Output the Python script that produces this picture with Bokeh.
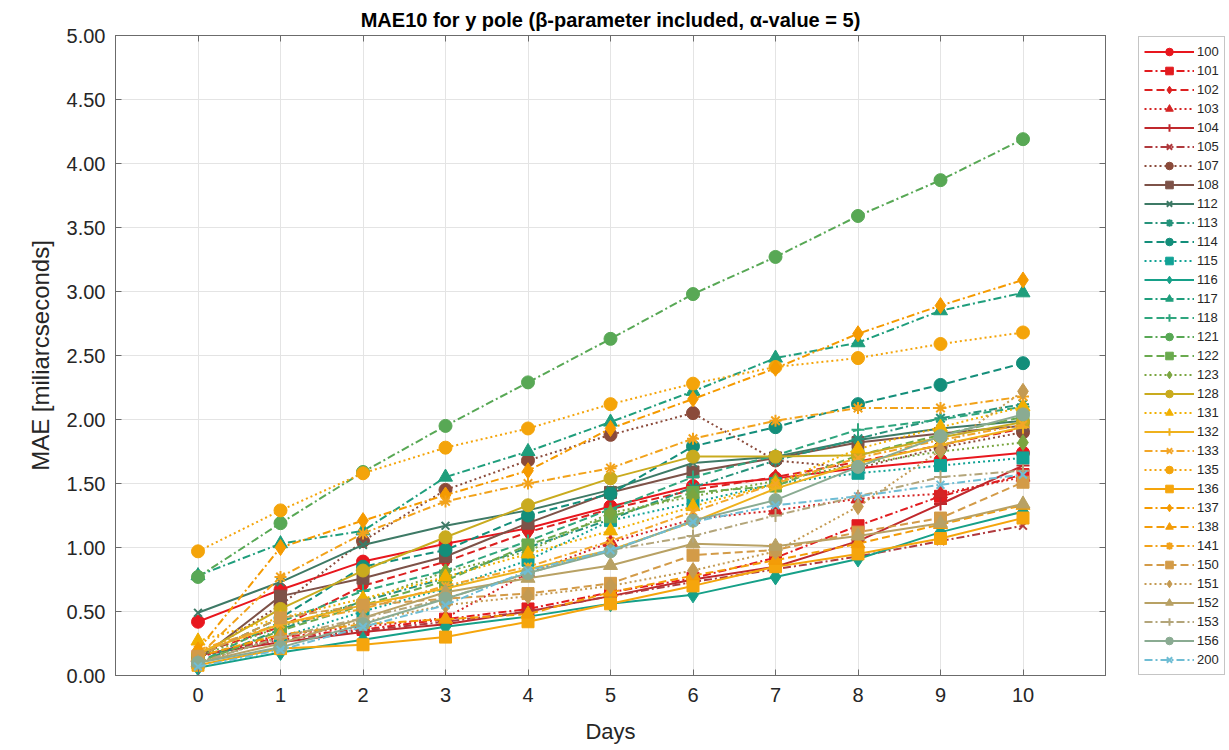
from bokeh.plotting import figure
from bokeh.layouts import row
from bokeh.models import (Legend, LegendItem, LinearAxis, FixedTicker,
                          NumeralTickFormatter, Range1d)
from bokeh.embed import file_html
from bokeh.resources import INLINE

# Forecast horizon (days)
days = [0, 1, 2, 3, 4, 5, 6, 7, 8, 9, 10]

# MAE per solution, in milliarcseconds
s100 = [0.42, 0.67, 0.89, 1.03, 1.15, 1.32, 1.48, 1.54, 1.62, 1.68, 1.74]
s101 = [0.15, 0.30, 0.36, 0.44, 0.52, 0.65, 0.76, 0.92, 1.17, 1.40, 1.57]
s102 = [0.17, 0.38, 0.70, 0.89, 1.12, 1.30, 1.45, 1.55, 1.67, 1.80, 1.93]
s103 = [0.14, 0.32, 0.38, 0.45, 0.80, 1.04, 1.22, 1.29, 1.38, 1.42, 1.55]
s104 = [0.16, 0.26, 0.34, 0.40, 0.50, 0.62, 0.75, 0.85, 1.05, 1.34, 1.64]
s105 = [0.15, 0.28, 0.35, 0.42, 0.50, 0.62, 0.73, 0.83, 0.93, 1.05, 1.17]
s107 = [0.14, 0.55, 1.05, 1.45, 1.68, 1.88, 2.05, 1.68, 1.62, 1.78, 1.90]
s108 = [0.12, 0.62, 0.76, 0.93, 1.19, 1.43, 1.59, 1.70, 1.82, 1.89, 1.95]
s112 = [0.49, 0.73, 1.02, 1.17, 1.29, 1.45, 1.66, 1.71, 1.84, 1.93, 1.99]
s113 = [0.10, 0.36, 0.58, 0.76, 1.00, 1.22, 1.47, 1.68, 1.85, 2.01, 2.12]
s114 = [0.15, 0.45, 0.85, 0.98, 1.25, 1.42, 1.79, 1.94, 2.12, 2.27, 2.44]
s115 = [0.10, 0.30, 0.50, 0.68, 0.90, 1.21, 1.35, 1.50, 1.58, 1.64, 1.70]
s116 = [0.06, 0.18, 0.28, 0.38, 0.46, 0.56, 0.63, 0.77, 0.91, 1.12, 1.28]
s117 = [0.78, 1.03, 1.13, 1.55, 1.75, 1.98, 2.22, 2.48, 2.60, 2.85, 2.99]
s118 = [0.10, 0.42, 0.66, 0.82, 1.05, 1.30, 1.55, 1.72, 1.92, 2.00, 2.10]
s121 = [0.77, 1.19, 1.59, 1.95, 2.29, 2.63, 2.98, 3.27, 3.59, 3.87, 4.19]
s122 = [0.10, 0.35, 0.55, 0.74, 1.02, 1.24, 1.43, 1.48, 1.72, 1.88, 2.02]
s123 = [0.15, 0.38, 0.58, 0.81, 0.97, 1.27, 1.40, 1.52, 1.65, 1.75, 1.82]
s128 = [0.16, 0.52, 0.82, 1.08, 1.33, 1.54, 1.71, 1.71, 1.72, 1.86, 1.98]
s131 = [0.27, 0.45, 0.60, 0.77, 0.95, 1.13, 1.32, 1.50, 1.77, 1.94, 2.10]
s132 = [0.18, 0.40, 0.55, 0.68, 0.83, 0.98, 1.20, 1.46, 1.66, 1.80, 1.94]
s133 = [0.20, 0.40, 0.52, 0.70, 0.85, 1.05, 1.28, 1.50, 1.70, 1.84, 1.96]
s135 = [0.97, 1.29, 1.58, 1.78, 1.93, 2.12, 2.28, 2.41, 2.48, 2.59, 2.68]
s136 = [0.08, 0.21, 0.24, 0.30, 0.42, 0.56, 0.70, 0.85, 0.95, 1.07, 1.23]
s137 = [0.20, 1.00, 1.21, 1.41, 1.60, 1.93, 2.16, 2.40, 2.67, 2.89, 3.09]
s138 = [0.15, 0.32, 0.40, 0.44, 0.48, 0.65, 0.78, 0.90, 1.03, 1.18, 1.33]
s141 = [0.15, 0.77, 1.11, 1.36, 1.50, 1.62, 1.85, 1.99, 2.09, 2.09, 2.18]
s150 = [0.15, 0.45, 0.55, 0.60, 0.64, 0.72, 0.94, 0.98, 1.12, 1.23, 1.51]
s151 = [0.10, 0.30, 0.42, 0.55, 0.62, 0.70, 0.82, 0.97, 1.32, 1.76, 2.22]
s152 = [0.10, 0.25, 0.45, 0.65, 0.76, 0.86, 1.03, 1.01, 1.09, 1.19, 1.34]
s153 = [0.10, 0.30, 0.45, 0.60, 0.80, 0.98, 1.09, 1.25, 1.40, 1.55, 1.60]
s156 = [0.10, 0.22, 0.40, 0.60, 0.80, 0.97, 1.21, 1.37, 1.63, 1.87, 2.04]
s200 = [0.07, 0.20, 0.38, 0.55, 0.82, 0.98, 1.20, 1.33, 1.40, 1.49, 1.57]

y_ticks = [0.0, 0.5, 1.0, 1.5, 2.0, 2.5, 3.0, 3.5, 4.0, 4.5, 5.0]

SOLID, DASH, DASHDOT, DOT = "solid", "8 4", "8 3 2 3", "2 3"

# label, values, colour, dash, marker
series = [
    ("100", s100, "#e8171e", SOLID, "circle"),
    ("101", s101, "#e21b1f", DASHDOT, "square"),
    ("102", s102, "#dc2020", DASH, "diamond"),
    ("103", s103, "#d42424", DOT, "triangle"),
    ("104", s104, "#c0282c", SOLID, "cross"),
    ("105", s105, "#b03a3e", DASHDOT, "x"),
    ("107", s107, "#8a4a3a", DOT, "circle"),
    ("108", s108, "#7d5248", SOLID, "square"),
    ("112", s112, "#3e7a66", SOLID, "x"),
    ("113", s113, "#26937b", DASHDOT, "asterisk"),
    ("114", s114, "#138e7a", DASH, "circle"),
    ("115", s115, "#11a295", DOT, "square"),
    ("116", s116, "#16a088", SOLID, "diamond"),
    ("117", s117, "#1f9e7c", DASHDOT, "triangle"),
    ("118", s118, "#2fa67e", DASH, "cross"),
    ("121", s121, "#58a855", DASHDOT, "circle"),
    ("122", s122, "#6aaa4e", DASH, "square"),
    ("123", s123, "#7aa540", DOT, "diamond"),
    ("128", s128, "#c9ab1e", SOLID, "circle"),
    ("131", s131, "#f1b000", DOT, "triangle"),
    ("132", s132, "#efb11c", SOLID, "cross"),
    ("133", s133, "#f3a628", DASHDOT, "x"),
    ("135", s135, "#f4a40a", DOT, "circle"),
    ("136", s136, "#f5a50c", SOLID, "square"),
    ("137", s137, "#f59a00", DASHDOT, "diamond"),
    ("138", s138, "#f39c08", DASH, "triangle"),
    ("141", s141, "#f2a21a", DASHDOT, "asterisk"),
    ("150", s150, "#d39b48", DASH, "square"),
    ("151", s151, "#c49a52", DOT, "diamond"),
    ("152", s152, "#b8a164", SOLID, "triangle"),
    ("153", s153, "#b3a57a", DASHDOT, "cross"),
    ("156", s156, "#8aab92", SOLID, "circle"),
    ("200", s200, "#6fbdd4", DASHDOT, "x"),
]

marker_size = {"circle": 13, "square": 12, "diamond": 16, "triangle": 14,
               "cross": 13, "x": 11, "asterisk": 12}

FONT = "'Liberation Sans', Arial, sans-serif"
AXIS_COLOR = "#6b6b6b"

# ---- main axes -------------------------------------------------------------
p = figure(width=1120, height=750,
           x_range=Range1d(-1, 11), y_range=Range1d(0, 5),
           output_backend="svg", toolbar_location=None,
           min_border_left=115, min_border_right=15,
           min_border_top=35, min_border_bottom=75,
           title="MAE10 for y pole (β-parameter included, α-value = 5)")

p.title.align = "center"
p.title.text_font = "'Liberation Sans Narrow', 'Liberation Sans', Arial, sans-serif"
p.title.text_font_size = "20px"
p.title.text_font_style = "bold"
p.title.text_color = "#000000"

p.outline_line_color = AXIS_COLOR
p.outline_line_width = 1

for ax in (p.xaxis[0], p.yaxis[0]):
    ax.major_tick_in = 6
    ax.major_tick_out = 0
    ax.minor_tick_line_color = None
    ax.axis_line_color = AXIS_COLOR
    ax.major_tick_line_color = AXIS_COLOR
    ax.major_label_text_font = FONT
    ax.major_label_text_font_size = "20px"
    ax.major_label_text_color = "#262626"
    ax.axis_label_text_font = FONT
    ax.axis_label_text_font_style = "normal"
    ax.axis_label_text_color = "#262626"

p.xaxis[0].ticker = FixedTicker(ticks=days)
p.xaxis[0].axis_label = "Days"
p.xaxis[0].axis_label_text_font_size = "22px"
p.xaxis[0].axis_label_standoff = 14
p.xaxis[0].major_label_standoff = 12

p.yaxis[0].ticker = FixedTicker(ticks=y_ticks)
p.yaxis[0].formatter = NumeralTickFormatter(format="0.00")
p.yaxis[0].axis_label = "MAE [miliarcseconds]"
p.yaxis[0].axis_label_text_font_size = "24px"
p.yaxis[0].axis_label_standoff = 10
p.yaxis[0].major_label_standoff = 10

# tick marks on the opposite sides of the box (labels hidden)
right_ax = LinearAxis(ticker=FixedTicker(ticks=y_ticks),
                      major_tick_in=6, major_tick_out=0,
                      major_label_standoff=0, major_label_text_font_size="1px",
                      major_label_text_alpha=0,
                      minor_tick_line_color=None,
                      axis_line_color=AXIS_COLOR, major_tick_line_color=AXIS_COLOR)
top_ax = LinearAxis(ticker=FixedTicker(ticks=days),
                    major_tick_in=6, major_tick_out=0,
                    major_label_standoff=0, major_label_text_font_size="1px",
                    major_label_text_alpha=0,
                    minor_tick_line_color=None,
                    axis_line_color=AXIS_COLOR, major_tick_line_color=AXIS_COLOR)
p.add_layout(right_ax, "right")
p.add_layout(top_ax, "above")

p.xgrid.ticker = FixedTicker(ticks=days)
p.ygrid.ticker = FixedTicker(ticks=y_ticks)
p.grid.grid_line_color = "#e4e4e4"
p.grid.grid_line_width = 1

# ---- legend panel (its own small canvas) -------------------------------------
lg = figure(width=109, height=750, x_range=Range1d(100, 101), y_range=Range1d(100, 101),
            output_backend="svg", toolbar_location=None,
            min_border=0, outline_line_color=None)
lg.axis.visible = False
lg.grid.visible = False


def draw(fig, vals, color, dash, marker):
    ln = fig.line(days, vals, line_color=color, line_width=2, line_dash=dash)
    filled = marker not in ("cross", "x", "asterisk")
    sc = fig.scatter(days, vals, marker=marker, size=marker_size[marker],
                     line_color=color, fill_color=color if filled else None,
                     line_width=1 if filled else 2)
    return ln, sc


items = []
for label, vals, color, dash, marker in series:
    draw(p, vals, color, dash, marker)
    ln, sc = draw(lg, vals, color, dash, marker)
    items.append(LegendItem(label=label, renderers=[ln, sc]))

legend = Legend(items=items, location=(18, 0), orientation="vertical",
                glyph_width=50, glyph_height=19, label_height=19,
                spacing=0, padding=5, margin=0, label_standoff=3,
                label_text_font=FONT, label_text_font_size="13px",
                label_text_color="#262626",
                border_line_color="#8c8c8c", border_line_width=1,
                background_fill_color="white", background_fill_alpha=1)
lg.add_layout(legend, "center")

layout = row(p, lg)
open("out.html", "w").write(file_html(layout, INLINE))
